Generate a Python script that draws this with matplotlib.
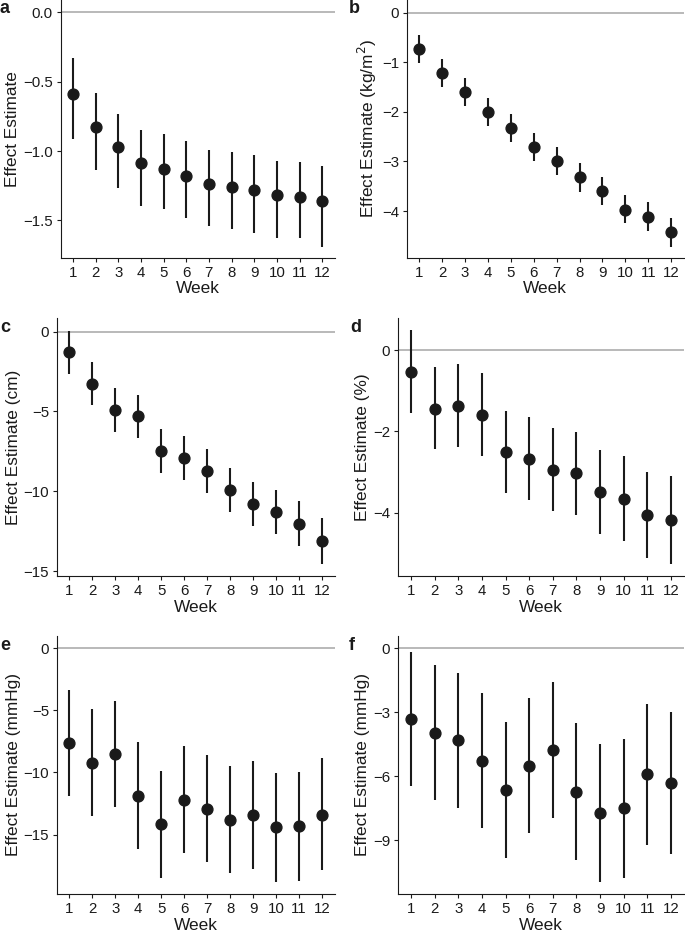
import numpy as np
import matplotlib
matplotlib.use("Agg")
import matplotlib.pyplot as plt

plt.rcParams['font.family'] = ['Liberation Sans', 'DejaVu Sans']

weeks = np.arange(1, 13)

# panel a
est_a = [-0.59, -0.83, -0.97, -1.09, -1.13, -1.18, -1.24, -1.26, -1.28, -1.32, -1.33, -1.36]
lo_a = [-0.91, -1.14, -1.27, -1.40, -1.42, -1.48, -1.54, -1.56, -1.59, -1.63, -1.63, -1.69]
hi_a = [-0.33, -0.58, -0.73, -0.85, -0.88, -0.93, -0.99, -1.01, -1.03, -1.07, -1.08, -1.11]

# panel b
est_b = [-0.73, -1.21, -1.59, -2.00, -2.33, -2.71, -2.99, -3.32, -3.60, -3.97, -4.11, -4.43]
lo_b = [-1.01, -1.49, -1.88, -2.29, -2.61, -3.00, -3.27, -3.61, -3.88, -4.25, -4.40, -4.72]
hi_b = [-0.45, -0.93, -1.31, -1.72, -2.05, -2.43, -2.71, -3.04, -3.31, -3.68, -3.82, -4.13]

# panel c
est_c = [-1.29, -3.28, -4.91, -5.30, -7.47, -7.93, -8.73, -9.90, -10.81, -11.32, -12.03, -13.09]
lo_c = [-2.65, -4.61, -6.26, -6.68, -8.85, -9.29, -10.10, -11.27, -12.19, -12.69, -13.44, -14.55]
hi_c = [0.06, -1.90, -3.55, -3.97, -6.12, -6.56, -7.37, -8.52, -9.42, -9.94, -10.61, -11.69]

# panel d
est_d = [-0.53, -1.44, -1.38, -1.60, -2.52, -2.67, -2.96, -3.03, -3.50, -3.66, -4.06, -4.18]
lo_d = [-1.54, -2.44, -2.38, -2.61, -3.52, -3.69, -3.97, -4.05, -4.52, -4.70, -5.12, -5.26]
hi_d = [0.48, -0.43, -0.35, -0.57, -1.49, -1.64, -1.93, -2.01, -2.47, -2.62, -2.99, -3.11]

# panel e
est_e = [-7.63, -9.21, -8.52, -11.87, -14.17, -12.21, -12.91, -13.80, -13.42, -14.39, -14.33, -13.39]
lo_e = [-11.87, -13.50, -12.80, -16.15, -18.46, -16.50, -17.20, -18.11, -17.76, -18.78, -18.72, -17.84]
hi_e = [-3.38, -4.93, -4.23, -7.58, -9.86, -7.90, -8.60, -9.46, -9.08, -10.02, -9.99, -8.87]

# panel f
est_f = [-3.31, -3.95, -4.30, -5.27, -6.64, -5.52, -4.75, -6.72, -7.73, -7.50, -5.89, -6.33]
lo_f = [-6.44, -7.11, -7.47, -8.44, -9.81, -8.67, -7.94, -9.91, -10.95, -10.75, -9.20, -9.64]
hi_f = [-0.16, -0.78, -1.14, -2.08, -3.44, -2.31, -1.56, -3.52, -4.48, -4.25, -2.61, -3.00]

ylabels = ['Effect Estimate', 'Effect Estimate (kg/m$^2$)', 'Effect Estimate (cm)',
           'Effect Estimate (%)', 'Effect Estimate (mmHg)', 'Effect Estimate (mmHg)']
letters = ['a', 'b', 'c', 'd', 'e', 'f']
yticks = [[0, -0.5, -1.0, -1.5], [0, -1, -2, -3, -4], [0, -5, -10, -15],
          [0, -2, -4], [0, -5, -10, -15], [0, -3, -6, -9]]
ylims = [(-1.77, 0.09), (-4.94, 0.255), (-15.3, 0.835),
         (-5.56, 0.78), (-19.77, 0.99), (-11.52, 0.59)]

W, H = 685, 933
# left, right, top, bottom in pixels
boxes = [(60.5, 334.7, 0, 257.7), (406.7, 683.7, 0, 257.7),
         (56.7, 334.6, 318.3, 576), (398, 684, 318.3, 576),
         (56.7, 334.6, 635.7, 894), (398, 684, 635.7, 894)]
letter_pos = [(0, 13), (349, 13), (0, 332), (350, 332), (0, 650), (349, 650)]

data = [(est_a, lo_a, hi_a), (est_b, lo_b, hi_b), (est_c, lo_c, hi_c),
        (est_d, lo_d, hi_d), (est_e, lo_e, hi_e), (est_f, lo_f, hi_f)]

fig = plt.figure(figsize=(W / 100, H / 100), dpi=100)
dark = '#1a1a1a'

for i in range(6):
    l, r, t, b = boxes[i]
    ax = fig.add_axes([l / W, 1 - b / H, (r - l) / W, (b - t) / H])
    est, lo, hi = data[i]
    ax.axhline(0, color='#b3b3b3', lw=1.3, zorder=1)
    ax.vlines(weeks, lo, hi, color=dark, lw=1.5, zorder=2)
    ax.plot(weeks, est, 'o', color=dark, ms=7.8, zorder=3)
    ax.set_xlim(0.45, 12.55)
    ax.set_ylim(*ylims[i])
    ax.set_xticks(weeks)
    ax.set_yticks(yticks[i])
    ax.spines['top'].set_visible(False)
    ax.spines['right'].set_visible(False)
    ax.spines['left'].set_color(dark)
    ax.spines['bottom'].set_color(dark)
    ax.tick_params(length=3, width=0.8, color=dark, labelsize=10.8, labelcolor=dark, pad=2.5)
    ax.tick_params(axis='x', pad=3)
    ax.set_xlabel('Week', fontsize=12.4, color=dark, labelpad=1)
    ax.set_ylabel(ylabels[i], fontsize=12.4, color=dark, labelpad=2)
    fig.text(letter_pos[i][0] / W, 1 - letter_pos[i][1] / H, letters[i],
             fontsize=13, fontweight='bold', color=dark, va='baseline', ha='left')

fig.savefig('out.png', dpi=100)
